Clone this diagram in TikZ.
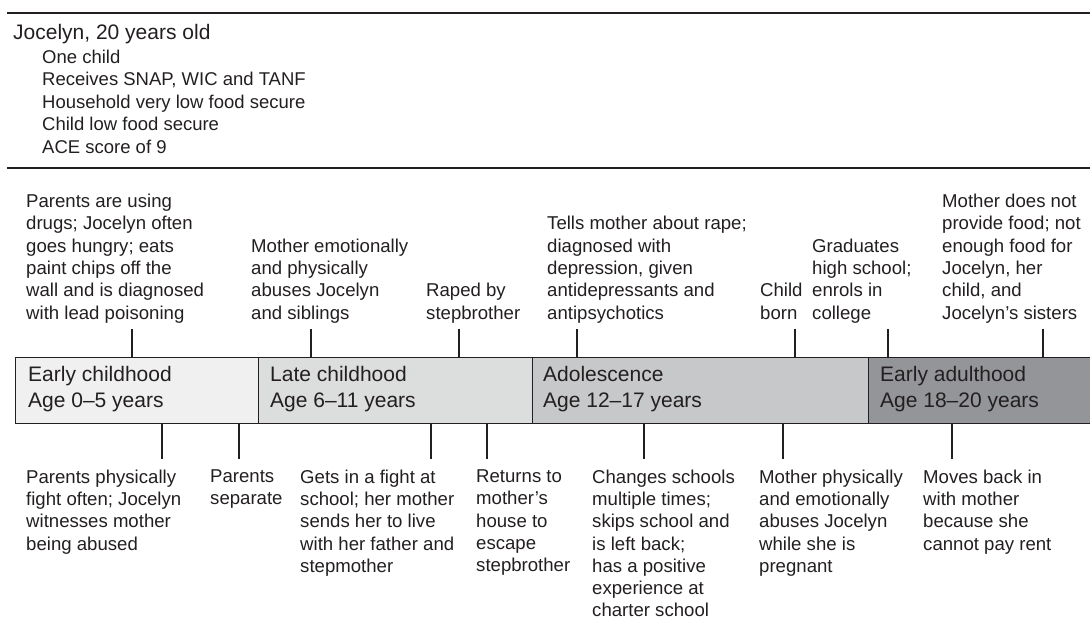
\documentclass[tikz,border=0pt]{standalone}
\usepackage{fontspec}
\setmainfont{Liberation Sans}
\usepackage{xcolor}
\usepackage{tikz}
\usetikzlibrary{calc}
\definecolor{ink}{HTML}{231F20}
\definecolor{earlyfill}{HTML}{F0F0F0}
\definecolor{latefill}{HTML}{DCDDDD}
\definecolor{adolfill}{HTML}{C7C8C9}
\definecolor{adultfill}{HTML}{939598}
\tikzset{
  event/.style={align=left, inner sep=0pt, text=ink, font=\fontsize{18.6}{22.3}\selectfont},
  upevent/.style={event, anchor=south west, execute at end node=\strut},
  downevent/.style={event, anchor=north west, execute at begin node=\strut},
  phase/.style={draw=ink, line width=1.4pt, minimum height=66pt, anchor=north west, inner sep=0pt},
  phaselabel/.style={align=left, inner sep=0pt, anchor=north west, text=ink, font=\fontsize{21}{26}\selectfont, execute at begin node=\strut},
  tick/.style={draw=ink, line width=1.8pt},
  rule/.style={draw=ink, line width=1.7pt}
}

\begin{document}
\begin{tikzpicture}[x=1pt,y=-1pt]
        \useasboundingbox (0,0) rectangle (1090,631);
        \clip (0,0) rectangle (1090,631);

          % Header with the two rules
          \draw[rule] (7,13) -- (1095,13);
          \draw[rule] (7,168) -- (1095,168);
          \node[anchor=base west, inner sep=0pt, text=ink, font=\fontsize{21}{25}\selectfont] (name) at (13,39.3) {Jocelyn, 20 years old};
          \node[align=left, anchor=north west, inner sep=0pt, text=ink, font=\fontsize{18.5}{22.5}\selectfont, execute at begin node=\strut] (facts) at (42,49.7)
            {One child\\Receives SNAP, WIC and TANF\\Household very low food secure\\Child low food secure\\ACE score of 9};

          % Timeline bar
          \node[phase, fill=earlyfill, minimum width=243pt] (p1) at (15,357) {};
          \node[phase, fill=latefill, minimum width=274pt] (p2) at (258,357) {};
          \node[phase, fill=adolfill, minimum width=336pt] (p3) at (532,357) {};
          \node[phase, fill=adultfill, minimum width=240pt] (p4) at (868,357) {};

          \node[phaselabel] (l1) at (28,366.1) {Early childhood\\Age 0--5 years};
          \node[phaselabel] (l2) at (270,366.1) {Late childhood\\Age 6--11 years};
          \node[phaselabel] (l3) at (543,366.1) {Adolescence\\Age 12--17 years};
          \node[phaselabel] (l4) at (880,366.1) {Early adulthood\\Age 18--20 years};

        % Events above the bar
        \node[upevent] (drugs) at (26,326) {Parents are using\\drugs; Jocelyn often\\goes hungry; eats\\paint chips off the\\wall and is diagnosed\\with lead poisoning};
        \node[upevent] (emot) at (251,326) {Mother emotionally\\and physically\\abuses Jocelyn\\and siblings};
        \node[upevent] (raped) at (426,326) {Raped by\\stepbrother};
        \node[upevent] (tells) at (547,326) {Tells mother about rape;\\diagnosed with\\depression, given\\antidepressants and\\antipsychotics};
        \node[upevent] (born) at (760,326) {Child\\born};
        \node[upevent] (grad) at (812,326) {Graduates\\high school;\\enrols in\\college};
        \node[upevent] (nofood) at (942,326) {Mother does not\\provide food; not\\enough food for\\Jocelyn, her\\child, and\\Jocelyn’s sisters};

        % Events below the bar
        \node[downevent] (fight) at (26,469.5) {Parents physically\\fight often; Jocelyn\\witnesses mother\\being abused};
        \node[downevent] (separate) at (210,469.5) {Parents\\separate};
        \node[downevent] (school) at (300,469.5) {Gets in a fight at\\school; her mother\\sends her to live\\with her father and\\stepmother};
        \node[downevent] (returns) at (476,469.5) {Returns to\\mother’s\\house to\\escape\\stepbrother};
        \node[downevent] (changes) at (592,469.5) {Changes schools\\multiple times;\\skips school and\\is left back;\\has a positive\\experience at\\charter school};
        \node[downevent] (pregnant) at (759,469.5) {Mother physically\\and emotionally\\abuses Jocelyn\\while she is\\pregnant};
        \node[downevent] (moves) at (923,469.5) {Moves back in\\with mother\\because she\\cannot pay rent};

        % Tick marks
        \coordinate (a1) at (132,329);
        \coordinate (a2) at (311,329);
        \coordinate (a3) at (459,329);
        \coordinate (a4) at (577,329);
        \coordinate (a5) at (795,329);
        \coordinate (a6) at (888,329);
        \coordinate (a7) at (1043,329);
        \draw[tick] (a1) -- (a1 |- p1.north);
        \draw[tick] (a2) -- (a2 |- p2.north);
        \draw[tick] (a3) -- (a3 |- p2.north);
        \draw[tick] (a4) -- (a4 |- p3.north);
        \draw[tick] (a5) -- (a5 |- p3.north);
        \draw[tick] (a6) -- (a6 |- p4.north);
        \draw[tick] (a7) -- (a7 |- p4.north);

        \coordinate (b1) at (162,459);
        \coordinate (b2) at (239,459);
        \coordinate (b3) at (431,459);
        \coordinate (b4) at (487,459);
        \coordinate (b5) at (644,459);
        \coordinate (b6) at (783,459);
        \coordinate (b7) at (952,459);
        \draw[tick] (b1) -- (b1 |- p1.south);
        \draw[tick] (b2) -- (b2 |- p1.south);
        \draw[tick] (b3) -- (b3 |- p2.south);
        \draw[tick] (b4) -- (b4 |- p2.south);
        \draw[tick] (b5) -- (b5 |- p3.south);
        \draw[tick] (b6) -- (b6 |- p3.south);
        \draw[tick] (b7) -- (b7 |- p4.south);

        \end{tikzpicture}
\end{document}
